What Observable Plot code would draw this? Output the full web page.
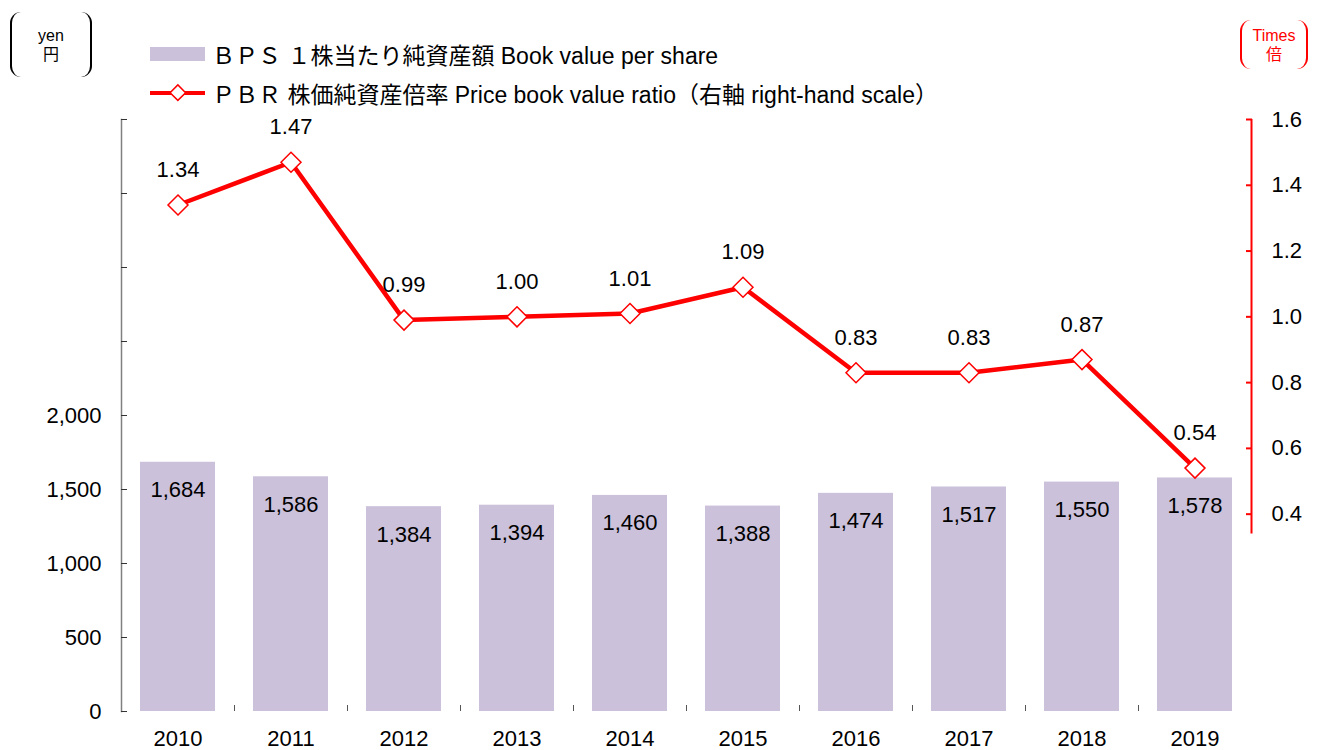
<!DOCTYPE html>
<html>
<head>
<meta charset="utf-8">
<script src="https://cdn.jsdelivr.net/npm/d3@7"></script>
<script src="https://cdn.jsdelivr.net/npm/@observablehq/plot@0.6"></script>
<style>
  body { margin: 0; background: #fff; font-family: "Liberation Sans", Arial, "Noto Sans CJK JP", sans-serif; }
  #wrap { position: relative; width: 1323px; height: 750px; }
  #head { position: relative; width: 1323px; height: 100px; }
  .unit { position: absolute; box-sizing: border-box; border-left: 2px solid; border-right: 2px solid; border-radius: 11px;
          display: flex; flex-direction: column; align-items: center; justify-content: center; font-size: 16px; line-height: 19px; }
  .leg { position: absolute; left: 150px; display: flex; align-items: center; font-size: 23px; color: #000; white-space: nowrap; }
  .leg svg { margin-right: 7px; }
</style>
</head>
<body>
<div id="wrap">
  <div id="head">
    <div class="unit" style="left:10px;top:12px;width:82px;height:65px;border-color:#000;color:#000;"><span>yen</span><span>円</span></div>
    <div class="unit" style="left:1240px;top:20px;width:68px;height:49px;border-color:#ff0000;color:#ff0000;"><span>Times</span><span>倍</span></div>
    <div class="leg" style="top:40px;height:28px;">
      <svg width="55" height="14"><rect x="0" y="0" width="55" height="14" fill="#cbc1db"></rect></svg>
      <span>ＢＰＳ&nbsp;１株当たり純資産額 Book value per share</span>
    </div>
    <div class="leg" style="top:79px;height:28px;">
      <svg width="55" height="20"><line x1="0" y1="10" x2="55" y2="10" stroke="#ff0000" stroke-width="4"></line>
        <rect x="22" y="4" width="11" height="11" transform="rotate(45 27.5 10)" fill="#fff" stroke="#ff0000" stroke-width="1.5"></rect></svg>
      <span>ＰＢＲ 株価純資産倍率 Price book value ratio（右軸 right-hand scale）</span>
    </div>
  </div>
  <div id="chart"></div>
</div>
<script>
const years = ["2010","2011","2012","2013","2014","2015","2016","2017","2018","2019"];
const bps = [1684, 1586, 1384, 1394, 1460, 1388, 1474, 1517, 1550, 1578];
const pbr = [1.34, 1.47, 0.99, 1.00, 1.01, 1.09, 0.83, 0.83, 0.87, 0.54];
const leftTicks = [0, 500, 1000, 1500, 2000, 2500, 3000, 3500, 4000];
const leftLabelMax = 2000;
const rightTicks = [0.4, 0.6, 0.8, 1.0, 1.2, 1.4, 1.6];
const rightAxisBottom = 0.34;

const rows = years.map((year, i) => ({year, bps: bps[i], pbr: pbr[i]}));

// secondary (right-hand) scale mapped onto the left scale
const pbrToLeft = d3.scaleLinear().domain([0.4, 1.6]).range([4000 / 3, 4000]);

const W = 1323, H = 650, mL = 121, mR = 72, mT = 19, mB = 39;
const step = (W - mL - mR) / years.length;
const fmt = d3.format(",");

const chart = Plot.plot({
  width: W,
  height: H,
  marginLeft: mL,
  marginRight: mR,
  marginTop: mT,
  marginBottom: mB,
  style: {fontFamily: "'Liberation Sans', Arial, 'Noto Sans CJK JP', sans-serif", fontSize: "22px", color: "#000", background: "#fff"},
  x: {type: "band", domain: years, paddingInner: 0.336, paddingOuter: 0.168, label: null},
  y: {domain: [0, 4000], label: null},
  marks: [
    Plot.barY(rows, {x: "year", y: "bps", fill: "#cbc1db"}),
    Plot.text(rows, {x: "year", y: "bps", text: d => fmt(d.bps), dy: 28, fill: "#000"}),
    // left axis
    Plot.frame({anchor: "left", stroke: "#808080", strokeWidth: 1.5}),
    Plot.axisY(leftTicks, {anchor: "left", label: null, tickSize: -6, tickPadding: 26, stroke: "#333", fill: "#000",
      tickFormat: d => d <= leftLabelMax ? fmt(d) : ""}),
    // x axis
    Plot.ruleY([0], {x1: years[0], x2: years[years.length - 1], insetLeft: -19, stroke: "#555", strokeWidth: 1.5}),
    Plot.axisX({anchor: "bottom", label: null, tickSize: 0, tickPadding: 19, fill: "#000"}),
    Plot.axisX(years.slice(0, -1), {anchor: "bottom", label: null, tickSize: -6, dx: step / 2, stroke: "#555", tickFormat: () => ""}),
    // right axis
    Plot.ruleX([years[years.length - 1]], {x: d => d, dx: step / 2, y1: pbrToLeft(rightAxisBottom), y2: 4000, stroke: "#ff0000", strokeWidth: 2}),
    Plot.axisY(rightTicks.map(v => pbrToLeft(v)), {anchor: "right", label: null, tickSize: -6, tickPadding: 26, stroke: "#ff0000", strokeWidth: 2, fill: "#000",
      tickFormat: d => pbrToLeft.invert(d).toFixed(1)}),
    // PBR line
    Plot.line(rows, {x: "year", y: d => pbrToLeft(d.pbr), stroke: "#ff0000", strokeWidth: 4.5}),
    Plot.dot(rows, {x: "year", y: d => pbrToLeft(d.pbr), symbol: "diamond2", r: 9, fill: "#fff", stroke: "#ff0000", strokeWidth: 1.5}),
    Plot.text(rows, {x: "year", y: d => pbrToLeft(d.pbr), text: d => d.pbr.toFixed(2), dy: -35, fill: "#000"})
  ]
});
document.getElementById("chart").appendChild(chart);
</script>
</body>
</html>
